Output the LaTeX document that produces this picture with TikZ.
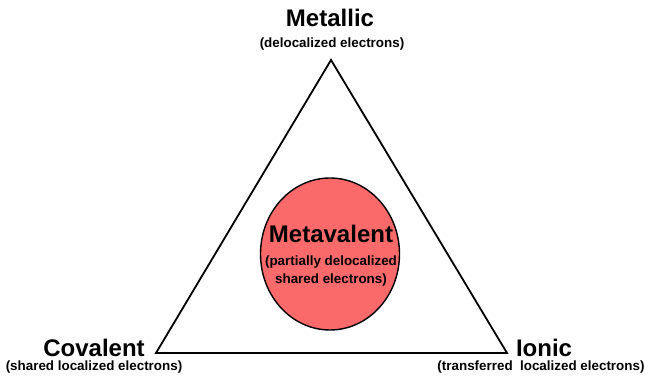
\documentclass[tikz,border=0pt]{standalone}
\usepackage{fontspec}
\setmainfont{Liberation Sans}
\usepackage{xcolor}
\usetikzlibrary{positioning,shapes.geometric}
\definecolor{metared}{RGB}{250,106,106}

\begin{document}
\begin{tikzpicture}[x=1pt,y=1pt,
  title/.style={font=\fontsize{24}{26}\selectfont\bfseries,anchor=base,inner sep=0pt},
  sub/.style={font=\fontsize{13.4}{18}\selectfont\bfseries,anchor=base,inner sep=0pt,align=center},
  edge/.style={draw,line width=1.8pt,line join=miter},
  blob/.style={ellipse,draw,line width=1.4pt,fill=metared,minimum width=139pt,minimum height=152pt,inner sep=0pt}]
\useasboundingbox (0,0) rectangle (645,379);
% corners of the triangle
\coordinate (met) at (331,319);
\coordinate (cov) at (156,26);
\coordinate (ion) at (507,26);
\draw[edge] (met) -- (cov) -- (ion) -- cycle;
% metavalent in the middle
\node[blob] (mv) at (330,125) {};
\node[title] (mvt) at (331,136) {Metavalent};
\node[sub,anchor=north] (mvs) at (331,123) {(partially delocalized\\shared electrons)};
% vertex labels
\node[title] (metl) at (330,352) {Metallic};
\node[sub] (mets) at (332,331) {(delocalized electrons)};
\node[title] (covl) at (94,22) {Covalent};
\node[sub] (covs) at (94,8) {(shared localized electrons)};
\node[title] (ionl) at (544,22) {Ionic};
\node[sub] (ions) at (541,8) {(transferred\ \ localized electrons)};
\end{tikzpicture}
\end{document}
